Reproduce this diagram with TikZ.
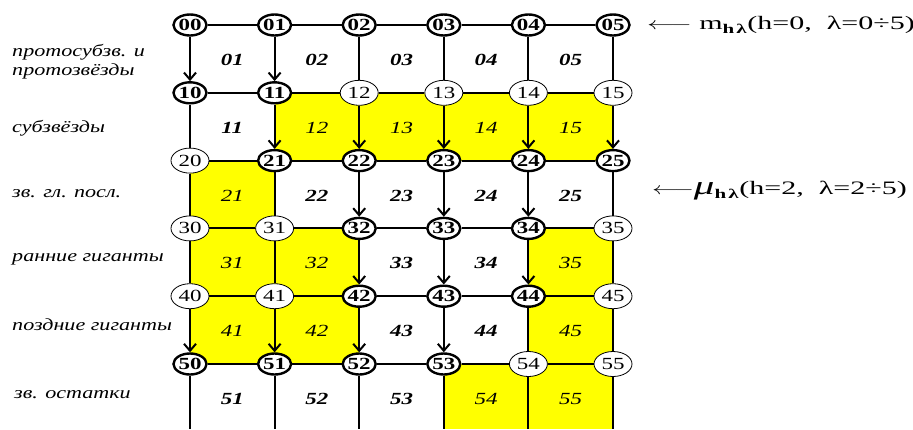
\documentclass[tikz,border=0pt]{standalone}
\usepackage{fontspec}
\setmainfont{Liberation Serif}
\newfontfamily\numfont[FakeStretch=1.35]{Liberation Serif}
\newfontfamily\notefont[FakeStretch=1.58]{Liberation Serif}
\newfontfamily\sidefont[FakeStretch=1.3]{Liberation Serif}
\usetikzlibrary{shapes.geometric,arrows.meta}
\definecolor{cellyellow}{RGB}{255,255,0}

\begin{document}
\begin{tikzpicture}[x=1pt, y=-1pt,
    bnode/.style={draw, ellipse, line width=2.4pt, fill=white, inner sep=0pt, minimum width=33pt, minimum height=21pt, font=\numfont\bfseries\fontsize{17}{17}\selectfont},
    pnode/.style={draw, ellipse, line width=0.8pt, fill=white, inner sep=0pt, minimum width=38pt, minimum height=25pt, font=\numfont\fontsize{17}{17}\selectfont},
    wcell/.style={font=\numfont\bfseries\itshape\fontsize{17}{17}\selectfont},
    ycell/.style={font=\numfont\itshape\fontsize{17}{17}\selectfont},
    side/.style={anchor=west, align=left, inner sep=0pt, font=\sidefont\itshape\fontsize{17}{19}\selectfont},
    note/.style={anchor=west, inner sep=0pt, font=\notefont\fontsize{19}{19}\selectfont},
    grid/.style={line width=2pt},
    arr/.style={line width=2pt, -{Straight Barb[length=7pt, width=12pt]}}]
\useasboundingbox (0,0) rectangle (913,429);

% yellow cells
\fill[cellyellow] (274.6,92.8) rectangle (613,160.6);
\fill[cellyellow] (190,160.6) rectangle (274.6,228.4);
\fill[cellyellow] (190,228.4) rectangle (359.2,364);
\fill[cellyellow] (528.4,228.4) rectangle (613,364);
\fill[cellyellow] (443.8,364) rectangle (613,429);

% states
\foreach \h/\l in {0/0,0/1,0/2,0/3,0/4,0/5,1/0,1/1,2/1,2/2,2/3,2/4,2/5,3/2,3/3,3/4,4/2,4/3,4/4,5/0,5/1,5/2,5/3}
  \node[bnode] (n\h\l) at (190+84.6*\l, 25+67.8*\h) {\h\l};
\foreach \h/\l in {1/2,1/3,1/4,1/5,2/0,3/0,3/1,3/5,4/0,4/1,4/5,5/4,5/5}
  \node[pnode] (n\h\l) at (190+84.6*\l, 25+67.8*\h) {\h\l};
\foreach \l in {0,...,5}
  \coordinate (b\l) at (190+84.6*\l, 429);

% links
\foreach \h in {0,1,2,3,4,5}
  \foreach \l/\m in {0/1,1/2,2/3,3/4,4/5}
    \draw[grid] (n\h\l) -- (n\h\m);
\foreach \a/\b in {10/20,02/12,03/13,04/14,05/15,20/30,21/31,25/35,30/40,31/41,35/45,44/54,45/55}
  \draw[grid] (n\a) -- (n\b);
\foreach \a/\b in {00/10,01/11,11/21,12/22,13/23,14/24,15/25,22/32,23/33,24/34,32/42,33/43,34/44,40/50,41/51,42/52,43/53}
  \draw[arr] (n\a) -- (n\b);
\foreach \l in {0,...,5}
  \draw[grid] (n5\l) -- (b\l);

% cells
\foreach \h/\l in {0/1,0/2,0/3,0/4,0/5,1/1,2/2,2/3,2/4,2/5,3/3,3/4,4/3,4/4,5/1,5/2,5/3}
  \node[wcell] (c\h\l) at (190+84.6*\l-42.3, 60+67.8*\h) {\h\l};
\foreach \h/\l in {1/2,1/3,1/4,1/5,2/1,3/1,3/2,3/5,4/1,4/2,4/5,5/4,5/5}
  \node[ycell] (c\h\l) at (190+84.6*\l-42.3, 60+67.8*\h) {\h\l};

% stages
\node[side] (s0) at (12,62) {протосубзв. и\\протозвёзды};
\node[side] (s1) at (12,128) {субзвёзды};
\node[side] (s2) at (12,194) {зв. гл. посл.};
\node[side] (s3) at (12,259) {ранние гиганты};
\node[side] (s4) at (12,325) {поздние гиганты};
\node[side] (s5) at (14,395) {зв. остатки};

% notes
\node[note] (m) at (647,25) {\scalebox{1.6}[1]{$\longleftarrow$} m\textsubscript{\textbf{h\,λ}}(h=0,\ \ λ=0÷5)};
\node[note] (mu) at (652,191) {\scalebox{1.5}[1]{$\longleftarrow$}\textit{\fontsize{26}{26}\selectfont μ}\textsubscript{\textbf{h\,λ}}(h=2,\ \ λ=2÷5)};
\end{tikzpicture}
\end{document}
